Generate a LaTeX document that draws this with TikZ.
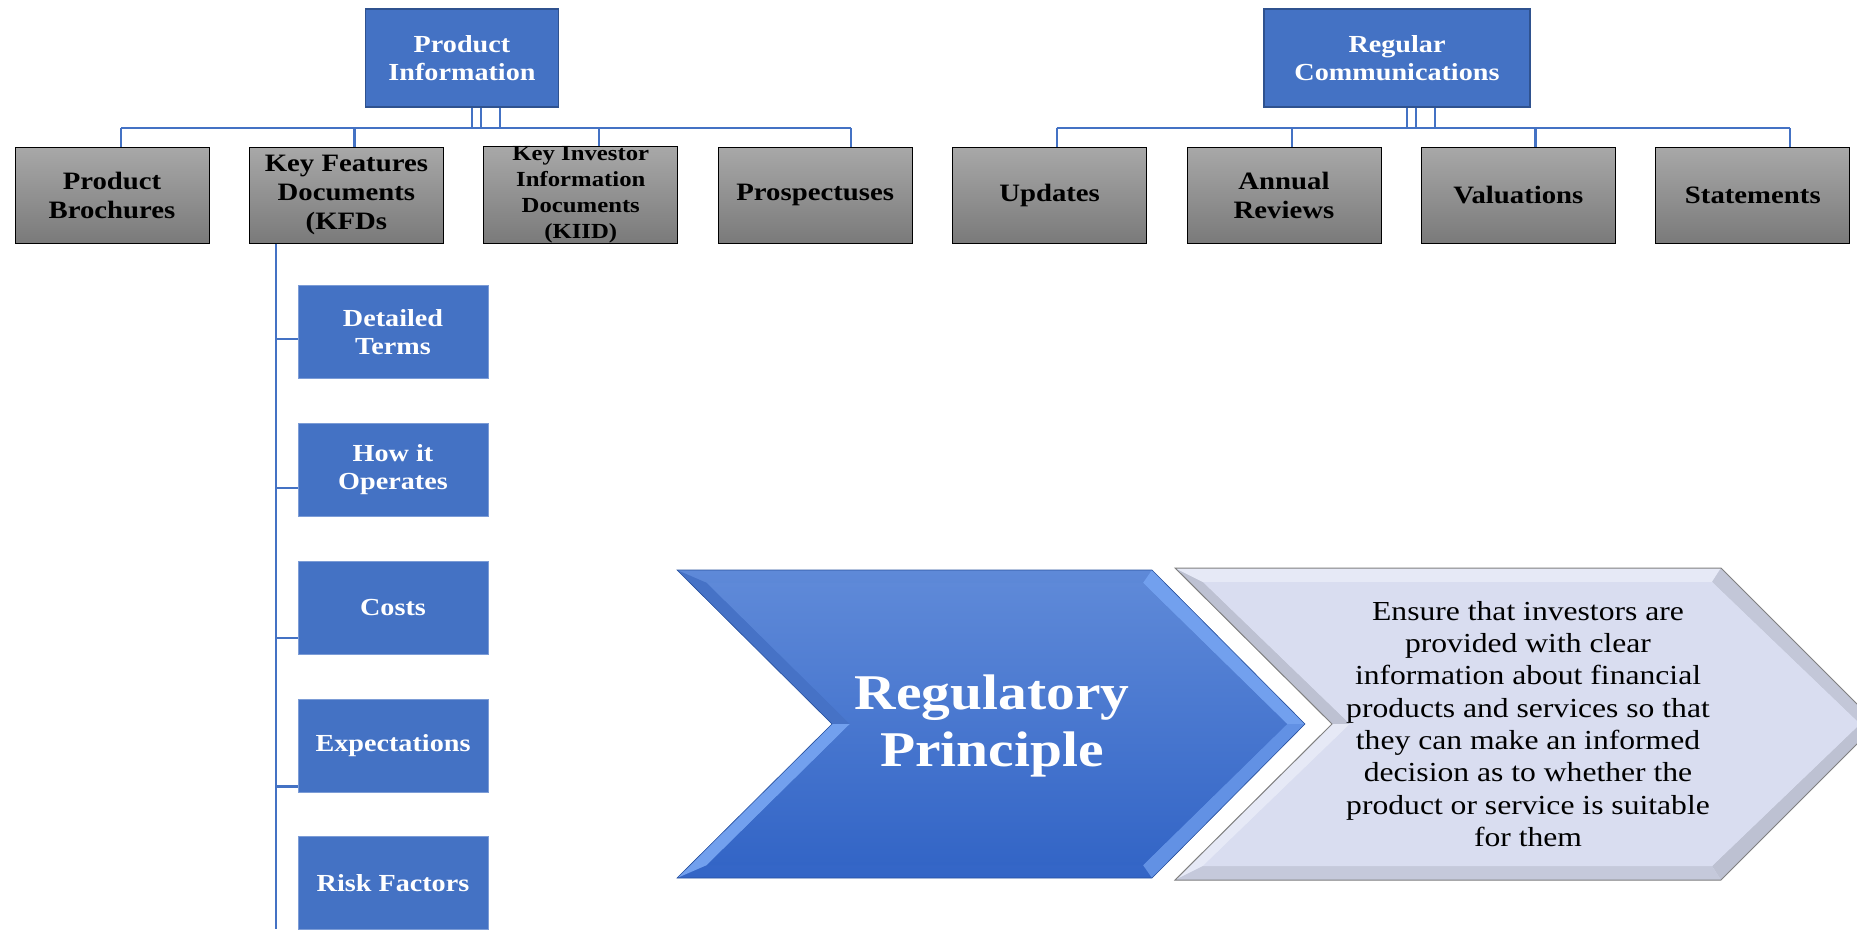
\documentclass[tikz,border=0pt]{standalone}
\usepackage{fontspec}
\setmainfont{Liberation Serif}[FakeStretch=1.15]
\usetikzlibrary{positioning}
\definecolor{boxblue}{HTML}{4472C4}
\definecolor{boxedge}{HTML}{2F528F}
\definecolor{greytop}{HTML}{A8A8A8}
\definecolor{greybot}{HTML}{7A7A7A}
\definecolor{chevtop}{HTML}{5E89D8}
\definecolor{chevbot}{HTML}{3365C6}
\definecolor{chevlight}{HTML}{72A0EE}
\definecolor{chevdark}{HTML}{4672C6}
\definecolor{lavender}{HTML}{D9DDF0}
\definecolor{lavlight}{HTML}{E6E9F6}
\definecolor{lavdark}{HTML}{BDC1D2}
\begin{document}
\begin{tikzpicture}[x=1pt,y=-1pt,
    parent/.style={draw=boxedge,line width=1.5pt,fill=boxblue,text=white,align=center,
      font=\bfseries\fontsize{24.5}{28}\selectfont,minimum height=98pt,inner sep=0pt},
    child/.style={draw=black,line width=1pt,top color=greytop,bottom color=greybot,align=center,
      font=\bfseries\fontsize{25}{29}\selectfont,minimum width=194pt,minimum height=96pt,inner sep=0pt},
    item/.style={draw=boxblue!70!white,line width=.8pt,fill=boxblue,text=white,align=center,
      font=\bfseries\fontsize{24.5}{28}\selectfont,minimum width=190pt,minimum height=93pt,inner sep=0pt},
    link/.style={draw=boxblue,line width=2.2pt}]
\useasboundingbox (0,0) rectangle (1857,929);
%
\node[parent,minimum width=193pt] (pinfo) at (462,58) {Product\\Information};
\node[parent,minimum width=266pt] (rcomm) at (1397,58) {Regular\\Communications};
%
\node[child] (pb) at (112,195) {Product\\Brochures};
\node[child,right=39.4pt of pb] (kfd) {Key Features\\Documents\\(KFDs};
\node[child,right=39.4pt of kfd,font=\bfseries\fontsize{21.5}{26}\selectfont] (kiid) {Key Investor\\Information\\Documents\\(KIID)};
\node[child,right=39.4pt of kiid] (pro) {Prospectuses};
\node[child,right=39.4pt of pro] (upd) {Updates};
\node[child,right=39.4pt of upd] (ann) {Annual\\Reviews};
\node[child,right=39.4pt of ann] (val) {Valuations};
\node[child,right=39.4pt of val] (stm) {Statements};
%
\node[item] (dt) at (393,332) {Detailed\\Terms};
\node[item,below=44pt of dt] (hio) {How it\\Operates};
\node[item,below=44pt of hio] (cst) {Costs};
\node[item,below=44pt of cst] (exp) {Expectations};
\node[item,below=44pt of exp] (rf) {Risk Factors};
%
% tree lines
\coordinate (bar) at (0,128);
\foreach \s in {10,19,38}{
    \draw[link] ([xshift=\s pt]pinfo.south) -- ([xshift=\s pt]pinfo.south |- bar);
    \draw[link] ([xshift=\s pt]rcomm.south) -- ([xshift=\s pt]rcomm.south |- bar);
  }
\draw[link] ([xshift=9pt]pb.north |- bar) -- ([xshift=36pt]pro.north |- bar);
\draw[link] ([xshift=7pt]upd.north |- bar) -- ([xshift=37pt]stm.north |- bar);
\foreach \c/\s in {pb/9,kfd/8,kiid/18,pro/36,upd/7,ann/8,val/17,stm/37}
  \draw[link] ([xshift=\s pt]\c.north) -- ([xshift=\s pt]\c.north |- bar);
%
\coordinate (spine) at ([xshift=27pt]kfd.south west);
\draw[link] (spine) -- (spine |- 0,929);
\foreach \n/\d in {dt/7,hio/18,cst/30,exp/41}
  \draw[link] ([yshift=-\d pt]\n.west) -- ([yshift=-\d pt]\n.west -| spine);
%
% blue chevron
\coordinate (b1) at (677,570); \coordinate (b2) at (1152,570); \coordinate (b3) at (1305,724);
\coordinate (b4) at (1152,878); \coordinate (b5) at (677,878); \coordinate (b6) at (832,724);
\coordinate (i1) at (707,583); \coordinate (i2) at (1143,583); \coordinate (i3) at (1287,724);
\coordinate (i4) at (1143,865); \coordinate (i5) at (707,865); \coordinate (i6) at (850,724);
\shade[top color=chevtop,bottom color=chevbot] (b1) -- (b2) -- (b3) -- (b4) -- (b5) -- (b6) -- cycle;
\fill[chevdark] (b1) -- (b6) -- (i6) -- (i1) -- cycle;
\fill[chevlight] (b6) -- (b5) -- (i5) -- (i6) -- cycle;
\fill[chevlight] (b2) -- (b3) -- (i3) -- (i2) -- cycle;
\fill[chevlight!75!chevbot] (b3) -- (b4) -- (i4) -- (i3) -- cycle;
\shade[top color=chevtop,bottom color=chevbot] (i1) -- (i2) -- (i3) -- (i4) -- (i5) -- (i6) -- cycle;
\draw[chevbot!80!black,line width=.6pt] (b1) -- (b2) -- (b3) -- (b4) -- (b5) -- (b6) -- cycle;
%
% lavender chevron
\coordinate (g1) at (1175,568); \coordinate (g2) at (1721,568); \coordinate (g3) at (1877,724);
\coordinate (g4) at (1721,880); \coordinate (g5) at (1175,880); \coordinate (g6) at (1332,724);
\coordinate (j1) at (1203,582); \coordinate (j2) at (1712,582); \coordinate (j3) at (1860,724);
\coordinate (j4) at (1712,866); \coordinate (j5) at (1203,866); \coordinate (j6) at (1350,724);
\fill[lavender] (g1) -- (g2) -- (g3) -- (g4) -- (g5) -- (g6) -- cycle;
\fill[lavdark] (g1) -- (g6) -- (j6) -- (j1) -- cycle;
\fill[lavlight] (g6) -- (g5) -- (j5) -- (j6) -- cycle;
\fill[lavlight] (g1) -- (g2) -- (j2) -- (j1) -- cycle;
\fill[lavdark!80!lavender] (g2) -- (g3) -- (j3) -- (j2) -- cycle;
\fill[lavdark] (g3) -- (g4) -- (j4) -- (j3) -- cycle;
\fill[lavdark!70!lavender] (g4) -- (g5) -- (j5) -- (j4) -- cycle;
\fill[lavender] (j1) -- (j2) -- (j3) -- (j4) -- (j5) -- (j6) -- cycle;
\draw[gray,line width=1pt] (g1) -- (g2) -- (g3) -- (g4) -- (g5) -- (g6) -- cycle;
%
\node[text=white,align=center,font=\bfseries\fontsize{50}{57}\selectfont] (reg) at (992,726) {Regulatory\\Principle};
\node[align=center,font=\fontsize{27.5}{32.3}\selectfont] (aim) at (1528,724)
  {Ensure that investors are\\provided with clear\\information about financial\\products and services so that\\they can make an informed\\decision as to whether the\\product or service is suitable\\for them};
\end{tikzpicture}
\end{document}
